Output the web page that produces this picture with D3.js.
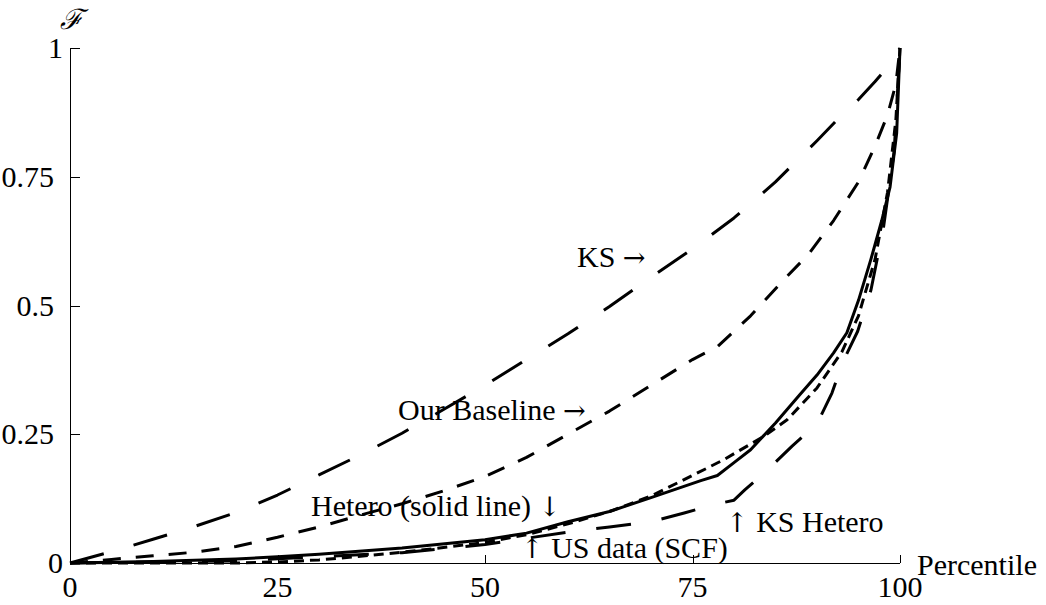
<!DOCTYPE html>
<html>
<head>
<meta charset="utf-8">
<script src="https://cdn.jsdelivr.net/npm/d3@7"></script>
<style>
  html, body { margin: 0; padding: 0; background: #fff; }
  svg { display: block; }
  text { font-family: "Liberation Serif", "DejaVu Serif", serif; fill: #000; }
</style>
</head>
<body>
<svg id="chart" width="1046" height="605"></svg>
<script>
// ---- data ----
const xTicks = [0, 25, 50, 75, 100];
const xTickLabels = ["0", "25", "50", "75", "100"];
const yTicks = [0, 0.25, 0.5, 0.75, 1];
const yTickLabels = ["0", "0.25", "0.5", "0.75", "1"];

const ksX = [0, 5, 10, 15, 20, 25, 30, 35, 40, 45, 50, 55, 60, 65, 70, 75, 80, 85, 90, 93, 95, 97, 98.5, 100];
const ksY = [0, 0.022, 0.046, 0.071, 0.098, 0.132, 0.171, 0.21, 0.252, 0.298, 0.345, 0.395, 0.445, 0.498, 0.555, 0.61, 0.67, 0.74, 0.82, 0.87, 0.9, 0.935, 0.963, 1];

const baseX = [0, 5, 10, 15, 20, 25, 30, 35, 40, 45, 50, 55, 60, 65, 70, 75, 78, 82, 86, 89, 92, 95, 97, 98.5, 99.5, 100];
const baseY = [0, 0.007, 0.014, 0.021, 0.032, 0.05, 0.07, 0.093, 0.115, 0.14, 0.168, 0.205, 0.25, 0.295, 0.345, 0.395, 0.42, 0.48, 0.55, 0.6, 0.665, 0.74, 0.81, 0.87, 0.93, 1];

const heteroX = [0, 10, 20, 25, 30, 40, 50, 55, 60, 65, 70, 76, 78, 80, 82, 85, 88, 90, 92, 93.6, 95, 96.5, 97.8, 98.8, 99.6, 100];
const heteroY = [0, 0.003, 0.008, 0.012, 0.017, 0.029, 0.045, 0.058, 0.08, 0.1, 0.127, 0.16, 0.17, 0.195, 0.22, 0.272, 0.328, 0.365, 0.408, 0.447, 0.51, 0.59, 0.665, 0.73, 0.835, 1];

const usX = [0, 20, 25, 30, 35, 40, 45, 50, 55, 60, 65, 70, 75, 78.7, 83.5, 86.4, 90, 93, 95, 97, 98.5, 99.5, 100];
const usY = [0, 0, 0.002, 0.006, 0.013, 0.021, 0.03, 0.04, 0.055, 0.076, 0.1, 0.13, 0.17, 0.2, 0.245, 0.278, 0.34, 0.41, 0.48, 0.59, 0.72, 0.86, 1];

const ksHetX = [0, 20, 40, 50, 55, 60, 65, 70, 74, 77.5, 80, 81.3, 84, 87, 90, 91.8, 93.1, 94.9, 96.5, 98, 99.3, 100];
const ksHetY = [0, 0.004, 0.02, 0.036, 0.048, 0.06, 0.07, 0.08, 0.097, 0.113, 0.122, 0.142, 0.18, 0.227, 0.27, 0.33, 0.39, 0.45, 0.53, 0.65, 0.8, 1];

const series = [
  { name: "KS", xs: ksX, ys: ksY, dash: "35,31" },
  { name: "Our Baseline", xs: baseX, ys: baseY, dash: "18,15" },
  { name: "US data (SCF)", xs: usX, ys: usY, dash: "10,6" },
  { name: "KS Hetero", xs: ksHetX, ys: ksHetY, dash: "35,31" },
  { name: "Hetero", xs: heteroX, ys: heteroY, dash: null }
];

const annotations = [
  { text: "KS \u2192", x: 577, y: 267 },
  { text: "Our Baseline \u2192", x: 398, y: 420 },
  { text: "Hetero (solid line) \u2193", x: 311, y: 516 },
  { text: "\u2191 US data (SCF)", x: 521, y: 558 },
  { text: "\u2191 KS Hetero", x: 726, y: 532 }
];

// ---- drawing ----
const svg = d3.select("#chart");
const x = d3.scaleLinear().domain([0, 100]).range([70, 900]);
const y = d3.scaleLinear().domain([0, 1]).range([563, 48]);
const FS = 30;

// axes lines
const axisG = svg.append("g").attr("stroke", "#000").attr("stroke-width", 1).attr("fill", "none");
axisG.append("line").attr("x1", x(0)).attr("x2", x(100)).attr("y1", y(0) + 0.5).attr("y2", y(0) + 0.5);
axisG.append("line").attr("x1", x(0) + 0.5).attr("x2", x(0) + 0.5).attr("y1", y(0)).attr("y2", y(1));
xTicks.forEach(t => {
  axisG.append("line").attr("x1", Math.round(x(t)) + 0.5).attr("x2", Math.round(x(t)) + 0.5)
    .attr("y1", y(0)).attr("y2", y(0) - 8);
});
yTicks.forEach(t => {
  axisG.append("line").attr("x1", x(0)).attr("x2", x(0) + 10)
    .attr("y1", Math.round(y(t)) + 0.5).attr("y2", Math.round(y(t)) + 0.5);
});

// tick labels
svg.append("g").selectAll("text").data(xTicks).join("text")
  .attr("x", d => x(d)).attr("y", 597)
  .attr("text-anchor", "middle").attr("font-size", FS)
  .text((d, i) => xTickLabels[i]);

svg.append("g").selectAll("text").data(yTicks).join("text")
  .attr("x", (d, i) => yTickLabels[i].includes(".") ? 54 : 63)
  .attr("y", d => y(d))
  .attr("dy", "0.34em")
  .attr("text-anchor", "end").attr("font-size", FS)
  .text((d, i) => yTickLabels[i]);

// axis titles
svg.append("text").attr("x", 917).attr("y", 575).attr("font-size", FS).text("Percentile");
svg.append("text").attr("x", 71).attr("y", 29).attr("text-anchor", "middle")
  .attr("font-size", 28).attr("font-style", "italic")
  .style("font-family", "'DejaVu Serif', serif").text("\u2131");

// curves
const line = d3.line().x(d => x(d[0])).y(d => y(d[1])).curve(d3.curveLinear);
svg.append("g").selectAll("path").data(series).join("path")
  .attr("d", s => line(s.xs.map((v, i) => [v, s.ys[i]])))
  .attr("fill", "none").attr("stroke", "#000").attr("stroke-width", 3)
  .attr("stroke-linejoin", "round")
  .attr("stroke-dasharray", s => s.dash);

// annotations (arrows drawn with a font that has them)
const ann = svg.append("g").selectAll("text").data(annotations).join("text")
  .attr("x", d => d.x).attr("y", d => d.y).attr("font-size", FS);
ann.each(function(d) {
  const t = d3.select(this);
  const parts = d.text.split(/([\u2190-\u2193])/);
  parts.forEach(p => {
    if (!p) return;
    const ts = t.append("tspan").text(p);
    if (/[\u2190-\u2193]/.test(p)) ts.style("font-family", "'DejaVu Serif', serif").attr("font-size", FS * 0.9);
  });
});
</script>
</body>
</html>
